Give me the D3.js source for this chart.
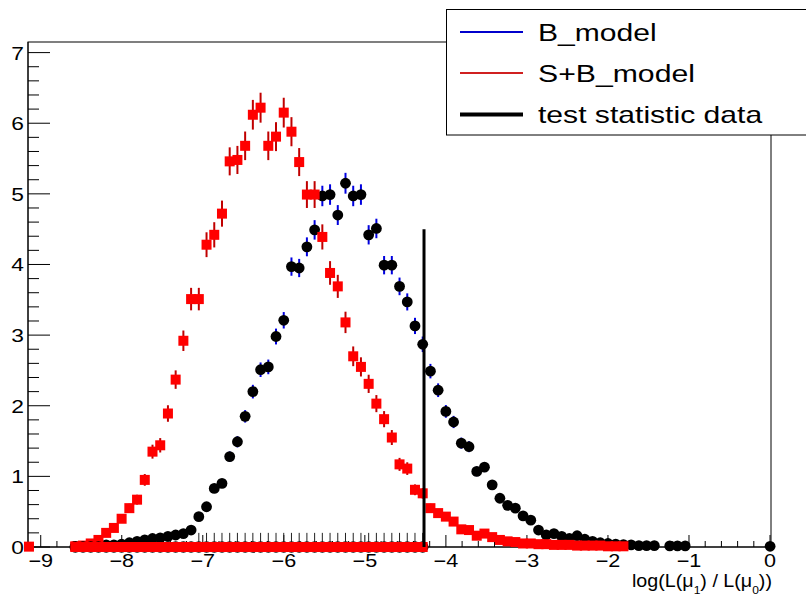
<!DOCTYPE html>
<html>
<head>
<meta charset="utf-8">
<script src="https://cdn.jsdelivr.net/npm/d3@7"></script>
<style>
  body { margin: 0; background: #fff; }
  svg { display: block; }
  text { font-family: "Liberation Sans", Arial, Helvetica, sans-serif; fill: #000; }
</style>
</head>
<body>
<div id="chart"></div>
<script>
// histogram binning shared by both toy distributions
const nBins = 97, binLow = -9.1926, binWidth = 0.09527;

// B_model bin contents (normalised)
const bModel = [
  0, 0, 0, 0, 0, 0,
  0.01, 0.01, 0.02, 0.02, 0.03, 0.03, 0.04,
  0.06, 0.08, 0.10, 0.12, 0.13, 0.15, 0.17, 0.19, 0.24,
  0.43, 0.57, 0.83, 0.90, 1.28, 1.49, 1.85, 2.20, 2.51, 2.55,
  2.98, 3.21, 3.97, 3.95, 4.25, 4.49, 4.97, 4.99, 4.70, 5.15,
  4.97, 4.99, 4.42, 4.51, 3.99, 3.99, 3.69, 3.47, 3.13, 2.87,
  2.49, 2.22, 1.92, 1.77, 1.47, 1.42, 1.07, 1.13, 0.88, 0.69,
  0.59, 0.55, 0.44, 0.38, 0.24, 0.17, 0.19, 0.15, 0.12, 0.16,
  0.11, 0.08, 0.06, 0.05, 0.04, 0.035, 0.03, 0.02, 0.02, 0.02,
  0, 0.015, 0.015, 0.015, 0, 0, 0, 0, 0, 0,
  0, 0, 0, 0, 0.01
];

// S+B_model bin contents (normalised)
const sbModel = [
  0.005, 0, 0, 0, 0, 0,
  0.01, 0.02, 0.05, 0.10, 0.20, 0.27, 0.40,
  0.55, 0.67, 0.95, 1.35, 1.44, 1.89, 2.37, 2.92, 3.51,
  3.51, 4.28, 4.42, 4.72, 5.46, 5.48, 5.68, 6.12, 6.22, 5.68,
  5.81, 6.15, 5.88, 5.45, 4.99, 4.99, 4.39, 3.88, 3.69, 3.18,
  2.70, 2.55, 2.31, 2.03, 1.81, 1.55, 1.17, 1.11, 0.81, 0.76,
  0.55, 0.48, 0.43, 0.36, 0.25, 0.24, 0.16, 0.19, 0.14, 0.10,
  0.08, 0.07, 0.05, 0.05, 0.04, 0.04, 0.03, 0.03, 0.03, 0.02,
  0.02, 0.02, 0.02, 0.01, 0.01, 0.01, 0, 0, 0, 0,
  0, 0, 0, 0, 0, 0, 0, 0, 0, 0,
  0, 0, 0, 0, 0
];

// stat error scale (error = scale * sqrt(content)) per histogram
const bErrScale = 0.065, sbErrScale = 0.085;

// empty-bin row drawn at zero, up to the observed value
const zeroRowFirst = 6, zeroRowLast = 51, zeroRowErrFrom = 22, zeroRowErr = 0.2;

const testStat = -4.27, testStatTop = 4.5;

const xTicks = [-9, -8, -7, -6, -5, -4, -3, -2, -1, 0];
const yTicks = [0, 1, 2, 3, 4, 5, 6, 7];
const legendLabels = ["B_model", "S+B_model", "test statistic data"];

const W = 806, H = 597;
const svg = d3.select("#chart").append("svg").attr("width", W).attr("height", H);

const x = d3.scaleLinear().domain([-9.157, 0.012]).range([28, 771]);
const y = d3.scaleLinear().domain([0, 7.15]).range([547, 42]);
const binCenter = i => binLow + (i + 0.5) * binWidth;

const sx = 1.2; // horizontal stretch of the glyphs in the picture
const sq = 10, rc = 5.4; // marker sizes

// frame
svg.append("rect")
  .attr("x", x.range()[0]).attr("y", y.range()[1])
  .attr("width", x.range()[1] - x.range()[0]).attr("height", y.range()[0] - y.range()[1])
  .attr("fill", "#fff").attr("stroke", "#000").attr("stroke-width", 1);

// x axis, ticks up
const xMinor = d3.range(-9, 0.001, 0.2).map(v => +v.toFixed(2)).filter(v => !xTicks.includes(v));
const xa = svg.append("g");
xa.append("line").attr("x1", x.range()[0]).attr("x2", x.range()[1])
  .attr("y1", y(0)).attr("y2", y(0)).attr("stroke", "#000");
xa.selectAll(".xmaj").data(xTicks).enter().append("line")
  .attr("x1", d => x(d)).attr("x2", d => x(d))
  .attr("y1", y(0)).attr("y2", y(0) - 12).attr("stroke", "#000");
xa.selectAll(".xmin").data(xMinor).enter().append("line")
  .attr("x1", d => x(d)).attr("x2", d => x(d))
  .attr("y1", y(0)).attr("y2", y(0) - 6).attr("stroke", "#000");
xa.selectAll(".xlab").data(xTicks).enter().append("text")
  .attr("transform", d => `translate(${x(d)},567) scale(${sx},1)`)
  .attr("text-anchor", "middle").attr("font-size", 18)
  .text(d => d < 0 ? "\u2212" + Math.abs(d) : d);

// y axis, ticks right
const yMinor = d3.range(0, 7.001, 0.2).map(v => +v.toFixed(2)).filter(v => !yTicks.includes(v));
const ya = svg.append("g");
ya.append("line").attr("x1", x.range()[0]).attr("x2", x.range()[0])
  .attr("y1", y.range()[0]).attr("y2", y.range()[1]).attr("stroke", "#000");
ya.selectAll(".ymaj").data(yTicks).enter().append("line")
  .attr("x1", x.range()[0]).attr("x2", x.range()[0] + 22)
  .attr("y1", d => y(d)).attr("y2", d => y(d)).attr("stroke", "#000");
ya.selectAll(".ymin").data(yMinor).enter().append("line")
  .attr("x1", x.range()[0]).attr("x2", x.range()[0] + 11)
  .attr("y1", d => y(d)).attr("y2", d => y(d)).attr("stroke", "#000");
ya.selectAll(".ylab").data(yTicks).enter().append("text")
  .attr("transform", d => `translate(24,${y(d) + 7}) scale(${sx},1)`)
  .attr("text-anchor", "end").attr("font-size", 19)
  .text(d => d);

// x title
const title = svg.append("g");
const tt = title.append("text").attr("font-size", 18);
tt.append("tspan").text("log(L(\u03bc");
tt.append("tspan").attr("font-size", 11).attr("dy", 7).text("1");
tt.append("tspan").attr("dy", -7).text(") / L(\u03bc");
tt.append("tspan").attr("font-size", 11).attr("dy", 7).text("0");
tt.append("tspan").attr("dy", -7).text("))");
{
  const bw = tt.node().getBBox().width, s = 140 / bw;
  title.attr("transform", `translate(${772 - 140},587) scale(${s},1)`);
}

const data = d3.range(nBins).map(i => ({ i, xc: binCenter(i), b: bModel[i], sb: sbModel[i] }));

// B_model: blue error bars, black circles
const gB = svg.append("g");
const bPts = data.filter(d => d.b > 0);
gB.selectAll(".be").data(bPts).enter().append("line")
  .attr("x1", d => x(d.xc)).attr("x2", d => x(d.xc))
  .attr("y1", d => y(d.b - bErrScale * Math.sqrt(d.b)))
  .attr("y2", d => y(d.b + bErrScale * Math.sqrt(d.b)))
  .attr("stroke", "#0000e0").attr("stroke-width", 2);
gB.selectAll(".bm").data(bPts).enter().append("circle")
  .attr("cx", d => x(d.xc)).attr("cy", d => y(d.b)).attr("r", rc)
  .attr("fill", "#000");

// S+B_model: red error bars, red squares
const gSB = svg.append("g");
const sbPts = data.filter(d => d.sb > 0);
gSB.selectAll(".se").data(sbPts).enter().append("line")
  .attr("x1", d => x(d.xc)).attr("x2", d => x(d.xc))
  .attr("y1", d => y(d.sb - sbErrScale * Math.sqrt(d.sb)))
  .attr("y2", d => y(d.sb + sbErrScale * Math.sqrt(d.sb)))
  .attr("stroke", "#c00000").attr("stroke-width", 2);
gSB.selectAll(".sm").data(sbPts).enter().append("rect")
  .attr("x", d => x(d.xc) - sq / 2).attr("y", d => y(d.sb) - sq / 2)
  .attr("width", sq).attr("height", sq).attr("fill", "#f00");

// row of zero-content bins below the observed value
const zr = data.filter(d => d.i >= zeroRowFirst && d.i <= zeroRowLast);
const gZ = svg.append("g");
gZ.selectAll(".zc").data(zr).enter().append("circle")
  .attr("cx", d => x(d.xc)).attr("cy", y(0)).attr("r", rc + 0.4).attr("fill", "#000");
gZ.selectAll(".ze").data(zr.filter(d => d.i >= zeroRowErrFrom)).enter().append("line")
  .attr("x1", d => x(d.xc)).attr("x2", d => x(d.xc))
  .attr("y1", y(0)).attr("y2", y(zeroRowErr)).attr("stroke", "#222").attr("stroke-width", 1);
gZ.selectAll(".zs").data(zr).enter().append("rect")
  .attr("x", d => x(d.xc) - sq / 2).attr("y", y(0) - sq / 2)
  .attr("width", sq).attr("height", sq).attr("fill", "#f00");

// observed test statistic
svg.append("line")
  .attr("x1", x(testStat)).attr("x2", x(testStat))
  .attr("y1", y(0)).attr("y2", y(testStatTop))
  .attr("stroke", "#000").attr("stroke-width", 3);

// legend
const lg = svg.append("g");
lg.append("rect").attr("x", 446.5).attr("y", 9.5).attr("width", 380).attr("height", 125.5)
  .attr("fill", "#fff").attr("stroke", "#000").attr("stroke-width", 1);
const legendStyle = [
  { color: "#0000cc", width: 2 },
  { color: "#d02020", width: 2 },
  { color: "#000", width: 4 }
];
const legendBase = [40.7, 81.7, 123.3];
const legendWidths = [118.7, 157, 225];
legendLabels.forEach((lab, k) => {
  lg.append("line").attr("x1", 460).attr("x2", 523)
    .attr("y1", legendBase[k] - 8.8).attr("y2", legendBase[k] - 8.8)
    .attr("stroke", legendStyle[k].color).attr("stroke-width", legendStyle[k].width);
  const g = lg.append("g");
  const t = g.append("text").attr("font-size", 24).text(lab);
  const s = legendWidths[k] / t.node().getBBox().width;
  g.attr("transform", `translate(538,${legendBase[k]}) scale(${s},1)`);
});
</script>
</body>
</html>
